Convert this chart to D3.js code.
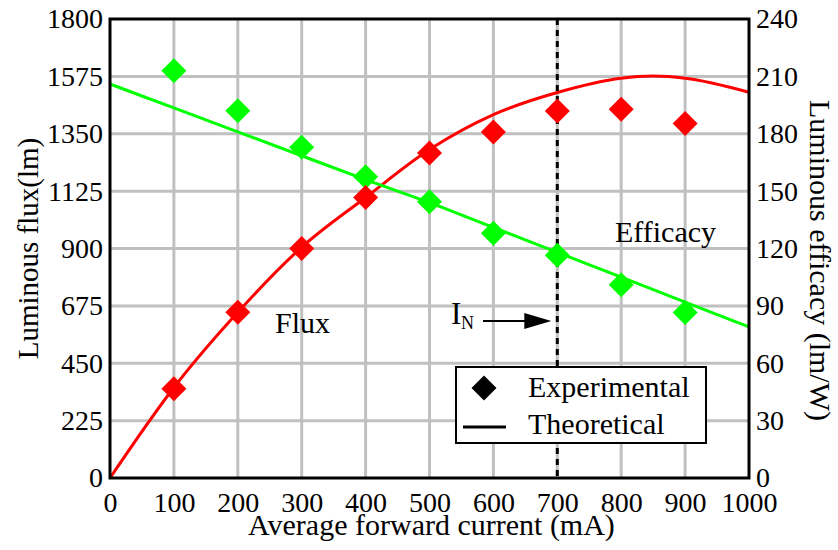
<!DOCTYPE html>
<html><head><meta charset="utf-8">
<script src="https://cdn.jsdelivr.net/npm/d3@7"></script>
<style>
body{margin:0;background:#fff}
svg{display:block}
svg text{font-family:"Liberation Serif","Times New Roman",serif !important;fill:#000}
</style>
</head><body>
<svg id="chart" width="838" height="550"></svg>
<script>
// ---- data ----
const currents = [100, 200, 300, 400, 500, 600, 700, 800, 900];
const fluxExperimental = [350, 650, 900, 1100, 1275, 1357, 1439, 1446, 1390];
const efficacyExperimental = [213, 192, 173, 157.5, 144.5, 128, 116.5, 101, 86.5];

const fluxTheoryCurrents = [0, 100, 200, 300, 400, 500, 600, 700, 800, 850, 900, 1000];
const fluxTheoretical = [0, 355, 650, 905, 1100, 1288, 1425, 1512, 1568, 1576, 1568, 1513];

const effTheoryCurrents = [0, 100, 200, 300, 400, 500, 600, 700, 800, 900, 1000];
const efficacyTheoretical = [206, 193.5, 181, 168.5, 156, 144, 131, 118, 105, 92, 79];

const xTicks = [0, 100, 200, 300, 400, 500, 600, 700, 800, 900, 1000];
const fluxTicks = [0, 225, 450, 675, 900, 1125, 1350, 1575, 1800];
const effTicks = [0, 30, 60, 90, 120, 150, 180, 210, 240];
const nominalCurrent = 700;

// ---- layout ----
const FONT = '"Liberation Serif","Times New Roman",serif';
const L = 110, R = 749, T = 19, B = 478;
const svg = d3.select("#chart");
const x = d3.scaleLinear().domain([0, 1000]).range([L, R]);
const yF = d3.scaleLinear().domain([0, 1800]).range([B, T]);
const yE = d3.scaleLinear().domain([0, 240]).range([B, T]);

const RED = "#ff0000", GREEN = "#00ff00", GRID = "#c0c0c0";

// grid
const grid = svg.append("g");
grid.selectAll("line.v").data(xTicks.filter(d => d > 0 && d < 1000)).join("line")
  .attr("x1", d => x(d)).attr("x2", d => x(d)).attr("y1", T).attr("y2", B)
  .attr("stroke", GRID).attr("stroke-width", 3);
grid.selectAll("line.h").data(fluxTicks.filter(d => d > 0 && d < 1800)).join("line")
  .attr("x1", L).attr("x2", R).attr("y1", d => yF(d)).attr("y2", d => yF(d))
  .attr("stroke", GRID).attr("stroke-width", 3);

// theoretical curves
const fluxLine = d3.line().x(d => x(d[0])).y(d => yF(d[1])).curve(d3.curveMonotoneX);
const effLine = d3.line().x(d => x(d[0])).y(d => yE(d[1])).curve(d3.curveMonotoneX);
svg.append("path").datum(fluxTheoryCurrents.map((c, i) => [c, fluxTheoretical[i]]))
  .attr("d", fluxLine).attr("fill", "none").attr("stroke", RED).attr("stroke-width", 3);
svg.append("path").datum(effTheoryCurrents.map((c, i) => [c, efficacyTheoretical[i]]))
  .attr("d", effLine).attr("fill", "none").attr("stroke", GREEN).attr("stroke-width", 3);

// nominal current dashed line
svg.append("line").attr("x1", x(nominalCurrent)).attr("x2", x(nominalCurrent))
  .attr("y1", T).attr("y2", B).attr("stroke", "#000").attr("stroke-width", 3)
  .attr("stroke-dasharray", "6,5");

// experimental markers
function diamondPath(cx, cy, r) {
  return `M${cx},${cy - r}L${cx + r},${cy}L${cx},${cy + r}L${cx - r},${cy}Z`;
}
svg.append("g").selectAll("path").data(currents).join("path")
  .attr("d", (d, i) => diamondPath(x(d), yE(efficacyExperimental[i]), 12.5))
  .attr("fill", GREEN);
svg.append("g").selectAll("path").data(currents).join("path")
  .attr("d", (d, i) => diamondPath(x(d), yF(fluxExperimental[i]), 12.5))
  .attr("fill", RED);

// axes
const fs = 28;
const ax = svg.append("g").attr("transform", `translate(0,${B})`)
  .call(d3.axisBottom(x).tickValues(xTicks).tickSize(0).tickPadding(14).tickFormat(d3.format("d")));
const ayl = svg.append("g").attr("transform", `translate(${L},0)`)
  .call(d3.axisLeft(yF).tickValues(fluxTicks).tickSize(0).tickPadding(7).tickFormat(d3.format("d")));
const ayr = svg.append("g").attr("transform", `translate(${R},0)`)
  .call(d3.axisRight(yE).tickValues(effTicks).tickSize(0).tickPadding(7).tickFormat(d3.format("d")));
[ax, ayl, ayr].forEach(g => {
  g.attr("font-family", FONT).attr("font-size", fs);
  g.select(".domain").remove();
  g.selectAll("text").style("font-family", FONT).style("font-size", fs + "px").attr("fill", "#000");
});

// frame
svg.append("rect").attr("x", L).attr("y", T).attr("width", R - L).attr("height", B - T)
  .attr("fill", "none").attr("stroke", "#000").attr("stroke-width", 3);

// axis titles
svg.append("text").attr("x", (L + R) / 2 + 2).attr("y", 535).attr("text-anchor", "middle")
  .attr("font-size", 30).text("Average forward current (mA)");
svg.append("text").attr("transform", `translate(38,${(T + B) / 2}) rotate(-90)`)
  .attr("text-anchor", "middle").attr("font-size", 29).text("Luminous flux(lm)");
svg.append("text").attr("transform", `translate(810,${(T + B) / 2 + 12}) rotate(90)`)
  .attr("text-anchor", "middle").attr("font-size", 30).text("Luminous efficacy (lm/W)");

// annotations
svg.append("text").attr("x", 275).attr("y", 333).attr("font-size", 30).text("Flux");
svg.append("text").attr("x", 615).attr("y", 242).attr("font-size", 30).text("Efficacy");
svg.append("text").attr("x", 451).attr("y", 324).attr("font-size", 31).text("I");
svg.append("text").attr("x", 461).attr("y", 329).attr("font-size", 18).text("N");
svg.append("line").attr("x1", 483).attr("x2", 528).attr("y1", 321).attr("y2", 321)
  .attr("stroke", "#000").attr("stroke-width", 2);
svg.append("path").attr("d", `M${x(nominalCurrent) - 33},313L${x(nominalCurrent) - 6},321L${x(nominalCurrent) - 33},329Z`)
  .attr("fill", "#000");

// legend
const lg = svg.append("g");
lg.append("rect").attr("x", 456).attr("y", 367).attr("width", 250).attr("height", 76)
  .attr("fill", "#fff").attr("stroke", "#000").attr("stroke-width", 2);
lg.append("path").attr("d", diamondPath(484, 388, 12.5)).attr("fill", "#000");
lg.append("text").attr("x", 528).attr("y", 397).attr("font-size", 30).text("Experimental");
lg.append("line").attr("x1", 463).attr("x2", 506).attr("y1", 427).attr("y2", 427)
  .attr("stroke", "#000").attr("stroke-width", 3);
lg.append("text").attr("x", 528).attr("y", 434).attr("font-size", 30).text("Theoretical");
</script>
</body></html>
